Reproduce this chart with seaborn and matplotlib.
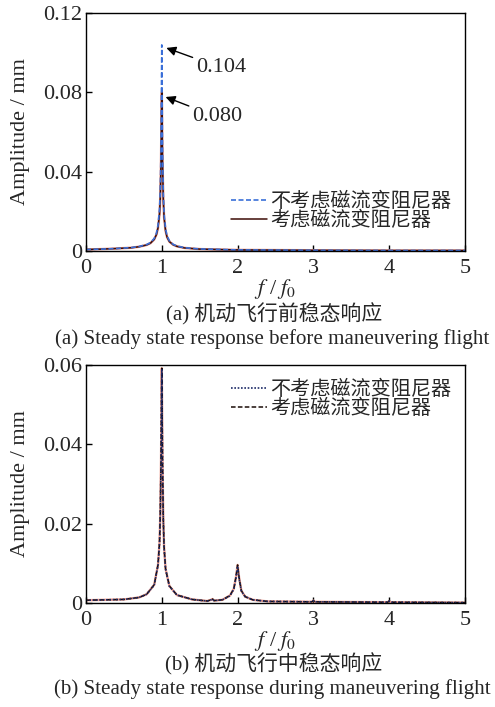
import numpy as np
import pandas as pd
import seaborn as sns
import matplotlib
matplotlib.use("Agg")
import matplotlib.pyplot as plt

# ---------------- data ----------------
freq_a = [0.0, 0.2, 0.4, 0.6, 0.7, 0.8, 0.85, 0.9, 0.93, 0.95, 0.97, 0.98, 0.99, 1.0,
          1.01, 1.02, 1.03, 1.05, 1.07, 1.1, 1.15, 1.2, 1.3, 1.5, 2.0, 3.0, 4.0, 5.0]
amp_a_no_mr = [0.0006, 0.0008, 0.0011, 0.0016, 0.0021, 0.0031, 0.0041, 0.0062, 0.0090, 0.0128,
               0.0210, 0.0300, 0.0520, 0.1040, 0.0500, 0.0290, 0.0190, 0.0110, 0.0075, 0.0050,
               0.0032, 0.0024, 0.0015, 0.0009, 0.0004, 0.0002, 0.0001, 0.0001]
amp_a_mr = [0.0006, 0.0008, 0.0011, 0.0015, 0.0020, 0.0029, 0.0038, 0.0057, 0.0082, 0.0115,
            0.0185, 0.0265, 0.0450, 0.0800, 0.0440, 0.0260, 0.0170, 0.0100, 0.0068, 0.0046,
            0.0030, 0.0022, 0.0014, 0.0008, 0.0004, 0.0002, 0.0001, 0.0001]

freq_b = [0.0, 0.5, 0.7, 0.8, 0.9, 0.95, 0.97, 0.98, 0.99, 1.0, 1.01, 1.02, 1.03, 1.05, 1.1,
          1.2, 1.4, 1.6, 1.65, 1.67, 1.69, 1.8, 1.9, 1.95, 1.98, 2.0, 2.02, 2.05, 2.1, 2.2,
          2.4, 2.98, 3.0, 3.02, 3.98, 4.0, 4.02, 5.0]
amp_b_no_mr = [0.0007, 0.0009, 0.0014, 0.0022, 0.0045, 0.0095, 0.0150, 0.0220, 0.0360, 0.0590,
               0.0350, 0.0210, 0.0140, 0.0085, 0.0042, 0.0020, 0.0009, 0.0005, 0.0008, 0.0010,
               0.0006, 0.0008, 0.0018, 0.0035, 0.0065, 0.0093, 0.0062, 0.0030, 0.0016, 0.0008,
               0.0004, 0.0003, 0.0006, 0.0003, 0.0002, 0.0005, 0.0002, 0.0001]
amp_b_mr = [0.0007, 0.0009, 0.0014, 0.0022, 0.0046, 0.0096, 0.0152, 0.0222, 0.0362, 0.0592,
            0.0352, 0.0212, 0.0142, 0.0086, 0.0043, 0.0020, 0.0009, 0.0005, 0.0008, 0.0010,
            0.0006, 0.0008, 0.0019, 0.0036, 0.0067, 0.0096, 0.0064, 0.0031, 0.0016, 0.0008,
            0.0004, 0.0003, 0.0006, 0.0003, 0.0002, 0.0005, 0.0002, 0.0001]

yticks_a = [0, 0.04, 0.08, 0.12]
yticklabels_a = ["0", "0.04", "0.08", "0.12"]
yticks_b = [0, 0.02, 0.04, 0.06]
yticklabels_b = ["0", "0.02", "0.04", "0.06"]
xticks = [0, 1, 2, 3, 4, 5]

label_no_mr = "不考虑磁流变阻尼器"
label_mr = "考虑磁流变阻尼器"
cap_a_cn = "(a) 机动飞行前稳态响应"
cap_a_en = "(a) Steady state response before maneuvering flight"
cap_b_cn = "(b) 机动飞行中稳态响应"
cap_b_en = "(b) Steady state response during maneuvering flight"

# ---------------- style ----------------
sns.set_theme(style="white")
plt.rcParams["font.family"] = ["Liberation Serif", "Noto Sans CJK SC", "DejaVu Sans"]
plt.rcParams["mathtext.fontset"] = "stix"
plt.rcParams["xtick.direction"] = "in"
plt.rcParams["ytick.direction"] = "in"

CJK = ["Noto Sans CJK SC", "DejaVu Sans"]
FS = 16

fig = plt.figure(figsize=(4.95, 7.07), dpi=100)
ax1 = fig.add_axes([0.1737, 0.6454, 0.7657, 0.3358])
ax2 = fig.add_axes([0.1737, 0.1471, 0.7657, 0.3366])

# panel (a)
sns.lineplot(x=freq_a, y=amp_a_mr, ax=ax1, color="#f0a090", linewidth=1.8, sort=False)
sns.lineplot(x=freq_a, y=amp_a_mr, ax=ax1, color="#3d0c06", linewidth=1.1, sort=False,
             label=label_mr)
sns.lineplot(x=freq_a, y=amp_a_no_mr, ax=ax1, color="#3a6fd8", linewidth=1.2,
             linestyle=(0, (3, 1.5)), sort=False, label=label_no_mr)

# panel (b)
sns.lineplot(x=freq_b, y=amp_b_mr, ax=ax2, color="#f0a090", linewidth=1.7, sort=False)
sns.lineplot(x=freq_b, y=amp_b_mr, ax=ax2, color="#1a0c08", linewidth=1.1,
             linestyle=(0, (3, 1.5)), sort=False, label=label_mr)
sns.lineplot(x=freq_b, y=amp_b_no_mr, ax=ax2, color="#1c2a66", linewidth=1.2,
             linestyle=(0, (1, 1)), sort=False, label=label_no_mr)

for ax, yt, ytl in [(ax1, yticks_a, yticklabels_a), (ax2, yticks_b, yticklabels_b)]:
    ax.set_xlim(0, 5)
    ax.set_ylim(yt[0], yt[-1])
    ax.set_xticks(xticks)
    ax.set_xticklabels([str(t) for t in xticks], fontsize=FS)
    ax.set_yticks(yt)
    ax.set_yticklabels(ytl, fontsize=FS)
    ax.tick_params(axis="both", which="major", length=4, width=1, color="black",
                   bottom=True, left=True)
    ax.tick_params(axis="x", pad=6)
    ax.tick_params(axis="y", pad=3)
    for s in ax.spines.values():
        s.set_visible(True)
        s.set_color("black")
        s.set_linewidth(1.0)
    ax.set_xlabel("$f$ / $f_0$", fontsize=FS, labelpad=-1)
    ax.set_ylabel("Amplitude / mm", fontsize=FS, labelpad=9)
    h, l = ax.get_legend_handles_labels()
    order = [l.index(label_no_mr), l.index(label_mr)]
    ax.legend([h[i] for i in order], [l[i] for i in order], loc="upper right",
              frameon=False, prop={"family": CJK, "size": 14.5},
              handlelength=1.8, handletextpad=0.15, labelspacing=-0.1,
              borderaxespad=0.3)

ax1.get_legend().set_bbox_to_anchor((1.0, 0.31), transform=ax1.transAxes)
ax2.get_legend().set_bbox_to_anchor((1.0, 1.0), transform=ax2.transAxes)

# annotations panel (a)
ax1.annotate("0.104", xy=(1.06, 0.1025), xytext=(1.45, 0.0925), fontsize=FS,
             va="center", ha="left",
             arrowprops=dict(arrowstyle="-|>", color="black", lw=1.0,
                             shrinkA=0, shrinkB=0, mutation_scale=14))
ax1.annotate("0.080", xy=(1.05, 0.0777), xytext=(1.40, 0.0676), fontsize=FS,
             va="center", ha="left",
             arrowprops=dict(arrowstyle="-|>", color="black", lw=1.0,
                             shrinkA=0, shrinkB=0, mutation_scale=14))

# captions
cx = 274 / 495
ex = 272 / 495
fig.text(cx, 1 - 314 / 707, cap_a_cn, ha="center", va="center", fontsize=15,
         family=["Liberation Serif", "Noto Sans CJK SC"])
fig.text(ex, 1 - 339 / 707, cap_a_en, ha="center", va="center", fontsize=15.1)
fig.text(cx, 1 - 664 / 707, cap_b_cn, ha="center", va="center", fontsize=15,
         family=["Liberation Serif", "Noto Sans CJK SC"])
fig.text(ex, 1 - 689 / 707, cap_b_en, ha="center", va="center", fontsize=15.1)

fig.savefig("out.png", dpi=100)
